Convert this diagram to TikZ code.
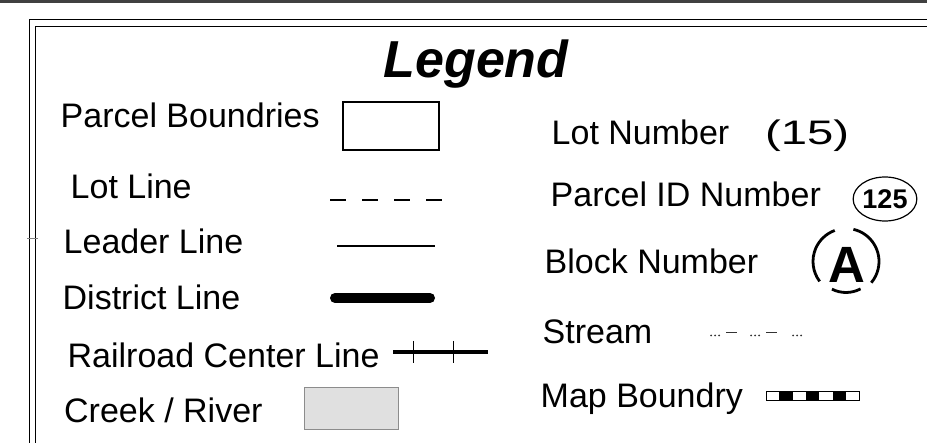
\documentclass[tikz,border=0pt]{standalone}
\usepackage{fontspec}
\setmainfont{Liberation Sans}
\usetikzlibrary{shapes.geometric}

\begin{document}
\begin{tikzpicture}[x=1pt,y=-1pt,
	lbl/.style={anchor=base west,inner sep=0pt,font=\fontsize{34}{40}\selectfont},
	frame/.style={line width=1.5pt}]
				\useasboundingbox(0,0)rectangle(927,443);
				\draw[black!75,line width=3pt](0,1.5)--(927,1.5);
				\draw[frame](29.5,443)--(29.5,19.5)--(927,19.5);
				\draw[frame](35.5,443)--(35.5,26.5)--(927,26.5);
				\draw[black!50,line width=0.8pt](27,238)--(38,238);
				\node[anchor=base,inner sep=0pt,font=\fontsize{52}{60}\selectfont\bfseries\itshape](title)at(476,78){Legend};
				\node[lbl](parcel)at(60.5,128){Parcel Boundries};
				\node[lbl](lotline)at(70.5,199){Lot Line};
				\node[lbl](leader)at(63.5,254){Leader Line};
				\node[lbl](district)at(62.5,310){District Line};
				\node[lbl](railroad)at(67.5,368){Railroad Center Line};
				\node[lbl](creek)at(64,423){Creek / River};
				\node[lbl](lotnum)at(551.5,145){Lot Number};
				\node[lbl](lotval)at(765,145){\scalebox{1.39}[1]{(15)}};
				\node[lbl](parcelid)at(550.5,207){Parcel ID Number};
				\node[lbl](block)at(544.5,274){Block Number};
				\node[lbl](stream)at(542.5,344){Stream};
				\node[lbl](mapbound)at(540.5,408){Map Boundry};
				\draw[line width=1.3pt](343,102)rectangle(439,150);
				\draw[line width=2.2pt,dash pattern=on 16pt off 16pt](330,200)--(442,200);
				\draw[line width=1.7pt](337,246)--(435,246);
				\draw[line width=10pt,line cap=round](335,298)--(430,298);
				\draw[line width=4pt](393,352)--(488,352);
				\foreach \x in {413,453}
					\draw[line width=1pt](\x,341)--(\x,363);
				\draw[black!45,fill=black!12,line width=1pt](304,388)rectangle(398,430);
				\node[draw,ellipse,line width=1.2pt,minimum width=54pt,minimum height=44pt,inner sep=0pt,font=\fontsize{27}{30}\selectfont\bfseries](pidval)at(885,199){125};
				\node[anchor=base,inner sep=0pt,font=\fontsize{51}{56}\selectfont\bfseries](blockval)at(846.5,283){A};
				\draw[line width=2.8pt](846,261.5)+(143:33)arc[start angle=143,end angle=250,radius=33];
				\draw[line width=2.8pt](846,261.5)+(283:33)arc[start angle=283,end angle=400,radius=33];
				\draw[line width=2.8pt](846,261.5)+(62:31)arc[start angle=62,end angle=117,radius=31];
				\foreach \x in {710,750,792}
					\foreach \d in {1,5,9}
						\fill[black!80](\x+\d,335.5)circle(1);
				\foreach \x in {726,766}
					\draw[black!80,line width=1pt](\x,333)--(\x+11,333);
				\foreach \i in {1,3,5}
					\fill[black](766+\i*13.3,392)rectangle(766+\i*13.3+13.3,401);
				\draw[line width=1pt](766,392)rectangle(859,401);
			\end{tikzpicture}
\end{document}
